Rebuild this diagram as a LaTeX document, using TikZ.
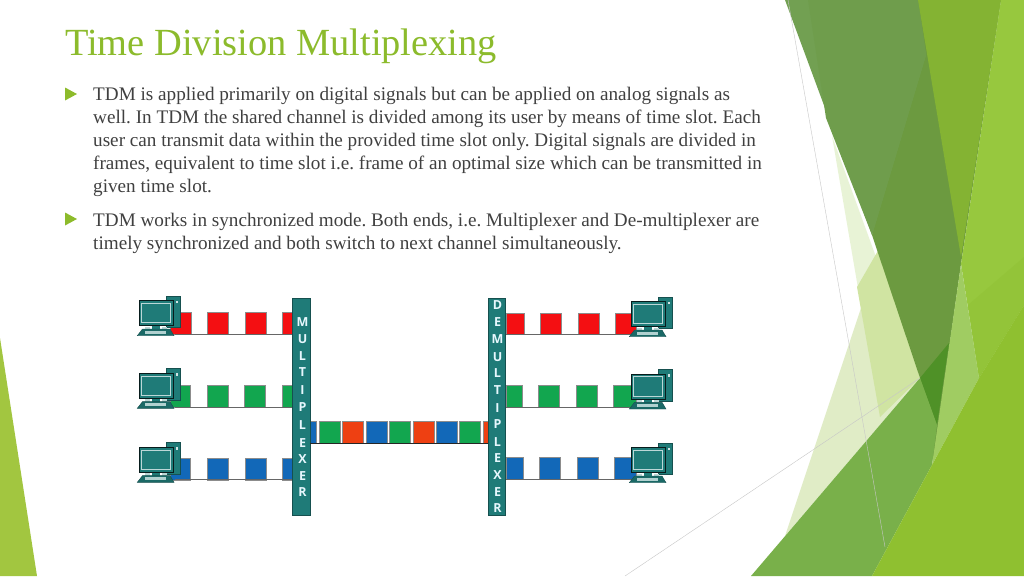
\documentclass[tikz,border=0pt]{standalone}
\usepackage{fontspec}
\setmainfont{Liberation Serif}
\newfontfamily\barfont{Open Sans}
\definecolor{titlegreen}{HTML}{8CBB2C}
\definecolor{bodygray}{HTML}{404040}
\definecolor{bullgreen}{HTML}{8DBB2B}
\definecolor{teal1}{HTML}{1F7B78}
\definecolor{teal2}{HTML}{16504F}
\definecolor{sred}{HTML}{F40F12}
\definecolor{sgreen}{HTML}{12A64F}
\definecolor{sblue}{HTML}{1268B8}
\definecolor{sorange}{HTML}{EE4012}
\definecolor{facetA}{HTML}{72A052}
\definecolor{facetAb}{HTML}{6F9D4C}
\definecolor{facetB}{HTML}{6C9A40}
\definecolor{facetC}{HTML}{84B333}
\definecolor{facetD}{HTML}{97C83E}
\definecolor{facetDb}{HTML}{93C439}
\definecolor{facetE}{HTML}{A0CC62}
\definecolor{facetF}{HTML}{8FC030}
\definecolor{facetG}{HTML}{79B04A}
\definecolor{facetH}{HTML}{4F9127}
\definecolor{facetP}{HTML}{E0ECC6}
\definecolor{facetQ}{HTML}{E8F3D6}
\definecolor{facetR}{HTML}{D0E4A2}
\definecolor{facetL}{HTML}{A2C640}
\tikzset{
  titletext/.style={anchor=base west,inner sep=0pt,text=titlegreen,font=\fontsize{38.4}{40}\selectfont},
  bodytext/.style={anchor=base west,inner sep=0pt,text=bodygray,font=\fontsize{19.17}{21}\selectfont\frenchspacing},
  bar/.style={draw=teal2,line width=0.7pt,fill=teal1,inner sep=0pt},
  barletter/.style={inner sep=0pt,text=white!90!cyan,font=\barfont\bfseries\fontsize{12.5}{13}\selectfont},
  feed/.style={draw=black!60,line width=1pt},
  trunk/.style={draw=black!85,line width=1pt},
  slotbox/.style={draw=black!45,line width=0.4pt},
  thinline/.style={draw=black!22,line width=0.4pt},
  pc/.pic={
    \draw[fill=teal1,draw=teal2,line width=0.5pt] (27,-4.7) rectangle (41.3,27);
    \fill[white!80!teal1] (37,0) rectangle (39,2.5);
    \fill[teal1] (13,24) rectangle (21,28.5);
    \fill[white!70!teal1] (6,26) rectangle (11,28.3);
    \fill[white!70!teal1] (23,26) rectangle (28,28.3);
    \draw[fill=teal1!85!black,draw=teal2,line width=0.4pt] (-1.7,35) -- (3.5,28.3) -- (31,28.3) -- (35,35) -- cycle;
    \fill[white!65!teal1] (6,30) rectangle (27,33);
    \draw[fill=teal1,draw=black!65!teal2,line width=0.8pt] (0,0) rectangle (34.3,25);
    \draw[fill=teal1,draw=white!70!teal1,line width=0.8pt] (2.6,2.6) rectangle (31.6,22);
  }
}
\newcommand{\slotr}[5]{\path[fill=#5,slotbox] (#1,#3) rectangle (#2,#4);}
\begin{document}
\begin{tikzpicture}[x=1pt,y=-1pt]
\useasboundingbox (0,0) rectangle (1024,576);
\fill[white] (0,0) rectangle (1024,576);
% facets
\fill[facetL] (0,338) -- (37,576) -- (0,576) -- cycle;
\fill[facetQ] (832,136) -- (880,417) -- (920,378) -- cycle;
\fill[facetP] (883,242) -- (785,536) -- (920,378) -- cycle;
\fill[facetR] (857,287) -- (883,242) -- (920,378) -- (880,417) -- cycle;
\fill[facetB] (872,235) -- (918,0) -- (1001,0) -- (961,264) -- (933,463) -- (920,378) -- cycle;
\fill[facetA] (785,0) -- (918,0) -- (926,55) -- (872,235) -- cycle;
\fill[facetAb] (808,0) -- (918,0) -- (926,55) -- (872,235) -- (826,118) -- cycle;
\fill[facetC] (918,0) -- (1001,0) -- (961,257) -- cycle;
\fill[facetH] (920,378) -- (949,343) -- (937,425) -- cycle;
\fill[facetG] (751,576) -- (920,378) -- (937,425) -- (932,465) -- (872,576) -- cycle;
\fill[facetD] (1001,0) -- (1024,0) -- (1024,305) -- (979,378) -- (961,264) -- cycle;
\fill[facetDb] (1024,257) -- (1024,305) -- (979,378) -- (968,305) -- cycle;
\fill[facetE] (961,264) -- (979,378) -- (932,465) -- cycle;
\fill[facetF] (872,576) -- (932,465) -- (979,378) -- (1024,305) -- (1024,576) -- cycle;
\coordinate (ga) at (788,0); \coordinate (gb) at (885,547);
\coordinate (gc) at (625,576); \coordinate (gd) at (920,378);
\draw[thinline] (ga) -- (gb);
\draw[thinline] (gc) -- (gd);
% title and text
\node[titletext] (title) at (65,55) {Time Division Multiplexing};
\fill[bullgreen] (65,87.5) -- (77,94) -- (65,100.5) -- cycle;
\fill[bullgreen] (65,212.5) -- (77,219) -- (65,225.5) -- cycle;
\node[bodytext] (l1) at (93,100.5) {TDM is applied primarily on digital signals but can be applied on analog signals as};
\node[bodytext] (l2) at (93,123.5) {well. In TDM the shared channel is divided among its user by means of time slot. Each};
\node[bodytext] (l3) at (93,146.5) {user can transmit data within the provided time slot only. Digital signals are divided in};
\node[bodytext] (l4) at (93,169.5) {frames, equivalent to time slot i.e. frame of an optimal size which can be transmitted in};
\node[bodytext] (l5) at (93,192.5) {given time slot.};
\node[bodytext] (l6) at (93,226) {TDM works in synchronized mode. Both ends, i.e. Multiplexer and De-multiplexer are};
\node[bodytext] (l7) at (93,249) {timely synchronized and both switch to next channel simultaneously.};
% slots, left
\foreach \a/\b in {170/190.7,207.3/228.3,245/265.7,282/292} {\slotr{\a}{\b}{311.7}{334}{sred}}
\foreach \a/\b in {170/190.3,207/228,244.5/265,282/292} {\slotr{\a}{\b}{385}{407}{sgreen}}
\foreach \a/\b in {170/190.3,207.3/228.3,245/265.7,282/292} {\slotr{\a}{\b}{458.3}{480}{sblue}}
% slots, right
\foreach \a/\b in {505.7/524,540.3/561.3,577.7/599,615.3/636} {\slotr{\a}{\b}{312.7}{334.5}{sred}}
\foreach \a/\b in {505.7/521.7,538.3/559.3,575.7/597,613/636} {\slotr{\a}{\b}{385}{407}{sgreen}}
\foreach \a/\b in {505.7/522.7,539/560,576.7/598,614/636} {\slotr{\a}{\b}{457.3}{479.5}{sblue}}
% trunk slots
\slotr{310}{316}{421}{442.7}{sblue}
\slotr{319}{340}{421}{442.7}{sgreen}
\slotr{342.3}{363}{421}{442.7}{sorange}
\slotr{365.7}{386.7}{421}{442.7}{sblue}
\slotr{389}{410}{421}{442.7}{sgreen}
\slotr{412.7}{433.7}{421}{442.7}{sorange}
\slotr{436}{457}{421}{442.7}{sblue}
\slotr{459.3}{480.3}{421}{442.7}{sgreen}
\slotr{483}{488}{421}{442.7}{sorange}
% bars
\node[bar,minimum width=18pt,minimum height=217.5pt] (mux) at (301,407) {};
\node[bar,minimum width=17.7pt,minimum height=217.5pt] (demux) at (496.9,407) {};
\foreach \yy/\ch [count=\i] in {321.7/M,339/U,355.7/L,371.7/T,390/I,406.7/P,425/L,443/E,459/X,475.7/E,491.7/R}
  {\node[barletter] (ma\i) at (302.5,\yy) {\ch};}
\foreach \yy/\ch [count=\i] in {305/D,321.7/E,339.3/M,356.7/U,373.3/L,390/T,407.7/I,424/P,441.7/L,458.3/E,475/X,491.7/E,508.3/R}
  {\node[barletter] (de\i) at (497.5,\yy) {\ch};}
% connectors
\coordinate (pl1) at (175,334.5); \coordinate (pl2) at (175,407); \coordinate (pl3) at (175,479.5);
\coordinate (pr1) at (636,334.7); \coordinate (pr2) at (636,407); \coordinate (pr3) at (636,479.7);
\draw[feed] (pl1) -- (pl1 -| mux.west);
\draw[feed] (pl2) -- (pl2 -| mux.west);
\draw[feed] (pl3) -- (pl3 -| mux.west);
\draw[feed] (pr1) -- (pr1 -| demux.east);
\draw[feed] (pr2) -- (pr2 -| demux.east);
\draw[feed] (pr3) -- (pr3 -| demux.east);
\coordinate (tk) at (mux.east |- 0,443);
\draw[trunk] (tk) -- (tk -| demux.west);
% computers
\pic at (139,300.7) {pc};
\pic at (139,373.3) {pc};
\pic at (139,447.3) {pc};
\pic at (631,301.7) {pc};
\pic at (631,374) {pc};
\pic at (631,447.7) {pc};
\end{tikzpicture}
\end{document}
